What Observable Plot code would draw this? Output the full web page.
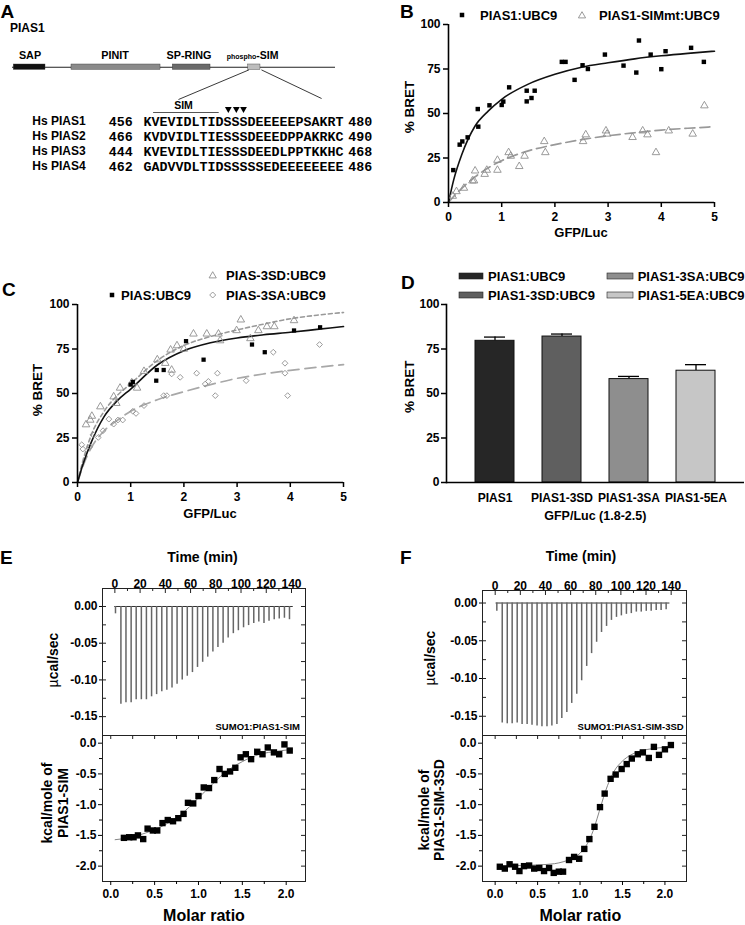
<!DOCTYPE html>
<html><head><meta charset="utf-8">
<script src="https://cdn.jsdelivr.net/npm/d3@7"></script>
<script src="https://cdn.jsdelivr.net/npm/@observablehq/plot@0.6"></script>
<style>
body{margin:0;background:#fff;}
#root{position:relative;width:745px;height:925px;background:#fff;overflow:hidden;}
</style></head><body><div id="root"></div>
<script>
// ================= DATA =================
// Panel A
const proteinLength = 651;
const domainNames = ["SAP", "PINIT", "SP-RING", "phospho-SIM"];
const domainStart = [3.6, 119.7, 323.6, 475.3];
const domainEnd = [67.4, 298.9, 399.5, 500];
const alignNames = ["Hs PIAS1", "Hs PIAS2", "Hs PIAS3", "Hs PIAS4"];
const alignStart = [456, 466, 444, 462];
const alignSeq = ["KVEVIDLTIDSSSDEEEEEPSAKRT", "KVDVIDLTIESSSDEEEDPPAKRKC", "KVEVIDLTIESSSDEEDLPPTKKHC", "GADVVDLTIDSSSSSEDEEEEEEEE"];
const alignEnd = [480, 490, 468, 486];
const simSpan = [457.2, 465.4];
const phosphoSites = [466.6, 467.6, 468.5];

// Panel B
const bPiasX = [0.09,0.21,0.26,0.36,0.55,0.56,0.77,1.0,1.03,1.14,1.47,1.47,1.56,1.62,2.13,2.2,2.37,2.52,2.62,2.94,3.29,3.53,3.58,3.8,4.0,4.08,4.56,4.8];
const bPiasY = [18.2,32.5,34.3,36.6,52.5,42.6,54.6,54.8,56.7,64.7,62.8,56.8,58.7,62.8,79.0,79.0,68.9,77.1,75.0,83.1,76.9,73.0,91.0,83.1,74.9,85.0,86.9,79.0];
const bMutX = [0.08,0.15,0.29,0.45,0.48,0.5,0.68,0.72,0.92,0.92,1.13,1.17,1.33,1.43,1.8,1.82,2.53,2.58,2.96,2.98,3.46,3.65,3.74,3.9,4.14,4.59,4.81];
const bMutY = [3.6,6.2,8.1,12.2,12.2,17.8,15.9,18.2,18.2,23.8,28.1,26.1,20.3,26.1,34.3,28.1,34.3,38.1,40.3,38.5,36.6,40.3,38.1,28.1,40.3,38.5,54.4];
const fitGrid = [0,0.1,0.25,0.5,0.75,1,1.5,2,2.5,3,3.5,4,4.5,5];
const bFitPias = [0,13,27,43,51.5,58,66.5,72,76,78.5,80.7,82.4,83.8,85];
const bFitMut = [0,3.5,8,14.4,19.5,23.5,29,32.5,35.3,37.5,39.2,40.7,41.7,42.6];
const bTicksX = [0,1,2,3,4,5];
const bretTicks = [0,25,50,75,100];

// Panel C
const cPiasX = [1.0,1.04,1.48,1.49,1.62,2.04,2.37,3.28,3.52,4.07,4.56];
const cPiasY = [55,56.5,57.2,63.2,63.2,79.4,69,77.5,73.2,85.4,87.2];
const c3sdX = [0.16,0.24,0.27,0.43,0.68,0.73,0.8,1.02,1.12,1.25,1.5,1.65,1.75,1.77,1.87,2.0,2.18,2.43,2.65,2.68,2.99,3.07,3.25,3.4,3.56,3.7,4.07];
const c3sdY = [32.5,35.1,37.3,42.6,48.2,44.5,53.1,56.1,53.1,62.5,69,67,74.5,63.2,76.9,75,83.5,83.5,83.5,79.7,85.4,91.4,80.9,85.4,87.6,87.6,91];
const c3saX = [0.08,0.1,0.23,0.29,0.39,0.48,0.59,0.68,0.76,0.85,1.04,1.1,1.25,1.62,1.68,1.77,1.93,2.24,2.4,2.46,2.59,2.63,3.17,3.68,3.9,3.9,3.95,4.55];
const c3saY = [21.2,18.8,20,26.8,25.3,29.1,35.6,32.8,35.1,35.1,40,38.8,43.2,48.8,48.8,61,59.1,61.4,55.3,56.8,48.8,61.4,57.2,73.2,67,61.4,48.8,77.5];
const cFitPias = [0,10,22,37,46,52.5,66,74,78.5,81.2,83,84.4,86,87.6];
const cFit3sd = [0,12,26,40,49,55.5,68.5,77,82,85.7,89,92,94,95.5];
const cFit3sa = [0,9,19,29,35,40,46.5,51,55,58.5,61,63,64.7,66.2];

// Panel D
const dCats = ["PIAS1", "PIAS1-3SD", "PIAS1-3SA", "PIAS1-5EA"];
const dValues = [79.6, 82.0, 58.1, 62.8];
const dErrors = [2.1, 1.4, 1.5, 3.4];
const dLegend = ["PIAS1:UBC9", "PIAS1-3SD:UBC9", "PIAS1-3SA:UBC9", "PIAS1-5EA:UBC9"];

// Panel E (SUMO1:PIAS1-SIM)
const eInjTime = [0.5,4.8,8.8,12.9,16.9,21.0,25.0,29.1,33.1,37.2,41.2,45.3,49.3,53.4,57.4,61.5,65.5,69.6,73.6,77.7,81.7,85.8,89.8,93.9,97.9,102.0,106.0,110.1,114.1,118.2,122.2,126.3,130.3,134.4,138.4];
const eInjPeak = [-0.010,-0.133,-0.131,-0.131,-0.127,-0.127,-0.127,-0.123,-0.120,-0.116,-0.114,-0.111,-0.106,-0.100,-0.095,-0.090,-0.083,-0.076,-0.069,-0.062,-0.056,-0.050,-0.043,-0.037,-0.033,-0.029,-0.026,-0.023,-0.021,-0.023,-0.020,-0.018,-0.017,-0.016,-0.018];
const eMolar = [0.15,0.21,0.26,0.31,0.37,0.42,0.48,0.53,0.59,0.65,0.71,0.77,0.83,0.88,0.94,1.0,1.06,1.12,1.18,1.24,1.3,1.36,1.42,1.48,1.54,1.6,1.67,1.73,1.79,1.86,1.92,1.98,2.04];
const eHeat = [-1.54,-1.53,-1.53,-1.5,-1.56,-1.39,-1.42,-1.42,-1.3,-1.25,-1.27,-1.22,-1.15,-0.97,-0.98,-0.86,-0.72,-0.73,-0.6,-0.42,-0.5,-0.46,-0.4,-0.23,-0.18,-0.26,-0.14,-0.18,-0.07,-0.15,-0.18,-0.02,-0.12];
const eFitX = [0.05,0.2,0.4,0.6,0.8,0.9,1.0,1.1,1.2,1.3,1.4,1.5,1.6,1.7,1.8,1.9,2.07];
const eFitY = [-1.57,-1.54,-1.46,-1.34,-1.16,-1.03,-0.89,-0.75,-0.61,-0.48,-0.38,-0.3,-0.23,-0.18,-0.15,-0.13,-0.1];

// Panel F (SUMO1:PIAS1-SIM-3SD)
const fInjTime = [1.3,5.6,9.6,13.5,17.5,21.4,25.4,29.3,33.3,37.2,41.2,45.1,49.1,53.0,57.0,60.9,64.9,68.8,72.8,76.7,80.7,84.6,88.6,92.5,96.5,100.4,104.4,108.3,112.3,116.2,120.2,124.1,128.1,132.0,136.0];
const fInjPeak = [-0.011,-0.159,-0.160,-0.160,-0.159,-0.161,-0.161,-0.162,-0.163,-0.164,-0.164,-0.163,-0.161,-0.153,-0.145,-0.133,-0.121,-0.103,-0.084,-0.067,-0.052,-0.039,-0.031,-0.023,-0.019,-0.017,-0.015,-0.014,-0.012,-0.012,-0.011,-0.011,-0.010,-0.010,-0.009];
const fMolar = [0.055,0.114,0.17,0.235,0.286,0.34,0.4,0.46,0.52,0.576,0.635,0.69,0.75,0.80,0.87,0.93,0.99,1.05,1.11,1.17,1.235,1.29,1.36,1.42,1.49,1.55,1.61,1.68,1.74,1.81,1.87,1.93,2.0,2.07];
const fHeat = [-2.01,-2.04,-1.97,-2.01,-2.08,-2.0,-1.99,-2.04,-2.03,-2.08,-2.03,-2.11,-2.09,-2.09,-1.9,-1.85,-1.88,-1.72,-1.56,-1.36,-1.04,-0.82,-0.58,-0.51,-0.42,-0.34,-0.25,-0.18,-0.15,-0.24,-0.06,-0.19,-0.1,-0.03];
const fFitX = [0.05,0.3,0.5,0.7,0.8,0.9,1.0,1.05,1.1,1.15,1.2,1.25,1.3,1.35,1.4,1.5,1.6,1.7,1.8,1.9,2.07];
const fFitY = [-1.99,-1.99,-1.98,-1.96,-1.93,-1.88,-1.79,-1.71,-1.6,-1.44,-1.23,-1.0,-0.78,-0.6,-0.46,-0.29,-0.19,-0.13,-0.1,-0.08,-0.06];

// ITC tick labels
const timeTicks = [0,20,40,60,80,100,120,140];
const timeMinor = [10,30,50,70,90,110,130];
const rateTicks = [0,-0.05,-0.10,-0.15];
const rateMinor = [-0.025,-0.075,-0.125];
const molarTicks = [0,0.5,1.0,1.5,2.0];
const molarMinor = [0.25,0.75,1.25,1.75];
const heatTicks = [0,-0.5,-1.0,-1.5,-2.0];
const heatMinor = [-0.25,-0.75,-1.25,-1.75];

// ================= STYLE =================
const FONT = "'Liberation Sans', Arial, Helvetica, sans-serif";
const MONO = "'Liberation Mono', 'DejaVu Sans Mono', monospace";
const baseStyle = {fontFamily: FONT, fontSize: "12px", fontWeight: "bold", background: "transparent", overflow: "visible", color: "black"};
const domainFill = ["#111111", "#8a8a8a", "#6a6a6a", "#bdbdbd"];
const barFill = ["#262626", "#5f5f5f", "#8e8e8e", "#c6c6c6"];
const openGray = "#8f8f8f";
const intFmt = d => String(d);

const root = document.getElementById("root");
function place(node, left, top) {
  node.style.position = "absolute";
  node.style.left = left + "px";
  node.style.top = top + "px";
  root.appendChild(node);
}
const zip = (xs, ys) => xs.map((x, i) => ({x, y: ys[i]}));

// ================= PANEL A =================
const domains = domainNames.map((name, i) => ({name, start: domainStart[i], end: domainEnd[i], fill: domainFill[i]}));
const A1 = Plot.plot({
  width: 372, height: 102, marginLeft: 12, marginRight: 37, marginTop: 0, marginBottom: 0,
  x: {domain: [1, proteinLength], axis: null},
  y: {domain: [0, 102], reverse: true, axis: null},
  color: {type: "identity"},
  style: baseStyle,
  marks: [
    Plot.ruleY([66.7], {x1: 1, x2: proteinLength, stroke: "#222", strokeWidth: 1.1}),
    Plot.rect(domains, {x1: "start", x2: "end", y1: 64, y2: 69.4, fill: "fill", stroke: "#333", strokeWidth: 0.4}),
    Plot.link([domains[3]], {x1: d => d.start + 1.5, y1: 69.4, x2: 335, y2: 99, stroke: "#222", strokeWidth: 0.9}),
    Plot.link([domains[3]], {x1: d => d.end + 2, y1: 69.4, x2: 623, y2: 98, stroke: "#222", strokeWidth: 0.9})
  ]
});
place(A1, 0, 0);

const rows = alignNames.map((name, i) => ({name, start: String(alignStart[i]), seq: alignSeq[i], end: String(alignEnd[i])}));
const firstRow = () => alignNames[0];
const A2 = Plot.plot({
  width: 372, height: 80, marginLeft: 143, marginRight: 29, marginTop: 25, marginBottom: 8.5,
  x: {domain: [456, 481], axis: null},
  y: {type: "point", domain: alignNames, padding: 0, axis: null},
  style: baseStyle,
  marks: [
    Plot.text(rows, {x: 442.1, y: "name", text: "name", textAnchor: "start", fontSize: 12, fontWeight: "bold"}),
    Plot.text(rows, {x: 451.66, y: "name", text: "start", textAnchor: "start", fontFamily: MONO, fontSize: 13.33, fontWeight: "bold"}),
    Plot.text(rows, {x: 456, y: "name", text: "seq", textAnchor: "start", fontFamily: MONO, fontSize: 13.33, fontWeight: "bold"}),
    Plot.text(rows, {x: 481.6, y: "name", text: "end", textAnchor: "start", fontFamily: MONO, fontSize: 13.33, fontWeight: "bold"}),
    Plot.link([simSpan], {x1: d => d[0], x2: d => d[1], y1: firstRow, y2: firstRow, dy: -9, stroke: "#555", strokeWidth: 1}),
    Plot.text([simSpan], {x: d => (d[0] + d[1]) / 2 - 0.3, y: firstRow, text: () => "SIM", dy: -15.5, fontSize: 10.5, fontWeight: "bold"}),
    Plot.dot(phosphoSites, {x: d => d, y: firstRow, symbol: "triangle", rotate: 180, r: 2.5, fill: "black", dy: -12.5})
  ]
});
place(A2, 0, 95);

// ================= PANEL B =================
const B = Plot.plot({
  width: 373, height: 245, marginLeft: 76, marginRight: 31, marginTop: 24, marginBottom: 43,
  x: {domain: [0, 5], label: null}, y: {domain: [0, 100], label: null},
  style: baseStyle,
  marks: [
    Plot.line(zip(fitGrid, bFitMut), {x: "x", y: "y", curve: "monotone-x", stroke: "#999", strokeWidth: 1.7, strokeDasharray: "10,5"}),
    Plot.line(zip(fitGrid, bFitPias), {x: "x", y: "y", curve: "monotone-x", stroke: "#111", strokeWidth: 1.6}),
    Plot.dot(zip(bMutX, bMutY), {x: "x", y: "y", symbol: "triangle", r: 2.8, fill: "none", stroke: openGray, strokeWidth: 0.9}),
    Plot.dot(zip(bPiasX, bPiasY), {x: "x", y: "y", symbol: "square", r: 2.5, fill: "black"}),
    Plot.ruleX([0], {strokeWidth: 1.6}),
    Plot.ruleY([0], {strokeWidth: 1.6}),
    Plot.axisX({ticks: bTicksX, tickFormat: intFmt, tickSize: 5, tickPadding: 4.5, strokeWidth: 1.5, label: null}),
    Plot.axisY({ticks: bretTicks, tickFormat: intFmt, tickSize: 5, tickPadding: 3, strokeWidth: 1.5, label: null})
  ]
});
place(B, 372, 0);

// ================= PANEL C =================
const C = Plot.plot({
  width: 372, height: 268, marginLeft: 77, marginRight: 29, marginTop: 42, marginBottom: 48,
  x: {domain: [0, 5], label: null}, y: {domain: [0, 100], label: null},
  style: baseStyle,
  marks: [
    Plot.line(zip(fitGrid, cFit3sa), {x: "x", y: "y", curve: "monotone-x", stroke: "#a8a8a8", strokeWidth: 1.7, strokeDasharray: "11,6"}),
    Plot.line(zip(fitGrid, cFit3sd), {x: "x", y: "y", curve: "monotone-x", stroke: "#999", strokeWidth: 1.6, strokeDasharray: "4,3"}),
    Plot.line(zip(fitGrid, cFitPias), {x: "x", y: "y", curve: "monotone-x", stroke: "#111", strokeWidth: 1.6}),
    Plot.dot(zip(c3saX, c3saY), {x: "x", y: "y", symbol: "diamond2", r: 2.6, fill: "none", stroke: openGray, strokeWidth: 0.9}),
    Plot.dot(zip(c3sdX, c3sdY), {x: "x", y: "y", symbol: "triangle", r: 2.8, fill: "none", stroke: openGray, strokeWidth: 0.9}),
    Plot.dot(zip(cPiasX, cPiasY), {x: "x", y: "y", symbol: "square", r: 2.4, fill: "black"}),
    Plot.ruleX([0], {strokeWidth: 1.6}),
    Plot.ruleY([0], {strokeWidth: 1.6}),
    Plot.axisX({ticks: bTicksX, tickFormat: intFmt, tickSize: 5, tickPadding: 5, strokeWidth: 1.5, label: null}),
    Plot.axisY({ticks: bretTicks, tickFormat: intFmt, tickSize: 5, tickPadding: 3, strokeWidth: 1.5, label: null})
  ]
});
place(C, 0, 262);

// ================= PANEL D =================
const dData = dCats.map((c, i) => ({cat: c, v: dValues[i], e: dErrors[i], fill: barFill[i]}));
const D = Plot.plot({
  width: 373, height: 270, marginLeft: 74, marginRight: 1, marginTop: 44, marginBottom: 48,
  x: {domain: dCats, paddingInner: 0.42, paddingOuter: 0.43, label: null},
  y: {domain: [0, 100], label: null},
  color: {type: "identity"},
  style: baseStyle,
  marks: [
    Plot.ruleX(dData, {x: "cat", y1: "v", y2: d => d.v + d.e, strokeWidth: 1.3}),
    Plot.tickY(dData, {x: "cat", y: d => d.v + d.e, insetLeft: 9, insetRight: 9, strokeWidth: 1.3}),
    Plot.barY(dData, {x: "cat", y: "v", fill: "fill", stroke: "#111", strokeWidth: 1}),
    Plot.ruleY([0], {strokeWidth: 1.6}),
    Plot.frame({anchor: "left", strokeWidth: 1.6}),
    Plot.axisX({tickSize: 0, tickPadding: 10.5, label: null}),
    Plot.axisY({ticks: bretTicks, tickFormat: intFmt, tickSize: 5, tickPadding: 2, strokeWidth: 1.5, label: null})
  ]
});
place(D, 372, 260);

// ================= PANELS E/F =================
function itcUpper(times, peaks, xDomain, yDomain, mL, mR, mT) {
  const W = 372, H = 176;
  const fw = W - mL - mR, fh = H - mT - 1;
  const spikes = times.map((t, i) => ({t, d: peaks[i]}));
  return Plot.plot({
    width: W, height: H, marginLeft: mL, marginRight: mR, marginTop: mT, marginBottom: 1,
    x: {domain: xDomain, label: null}, y: {domain: yDomain, label: null},
    style: baseStyle,
    marks: [
      Plot.ruleY([0], {x1: times[0] - 0.6, x2: times[times.length - 1] + 3, stroke: "#333", strokeWidth: 1}),
      Plot.ruleX(spikes, {x: "t", y1: 0, y2: "d", stroke: "#666", strokeWidth: 1.5}),
      Plot.frame({stroke: "#222", strokeWidth: 1}),
      Plot.ruleX(timeTicks, {insetBottom: fh - 5, stroke: "#222"}),
      Plot.ruleX(timeMinor, {insetBottom: fh - 3, stroke: "#222"}),
      Plot.ruleY(rateTicks.concat(rateMinor), {insetRight: fw - 4, stroke: "#222"}),
      Plot.ruleY(rateTicks.concat(rateMinor), {insetLeft: fw - 4, stroke: "#222"}),
      Plot.axisX({anchor: "top", ticks: timeTicks, tickFormat: intFmt, tickSize: 0, tickPadding: 1, label: null}),
      Plot.axisY({ticks: rateTicks, tickSize: 3, tickPadding: 2, tickFormat: d => d.toFixed(2), label: null})
    ]
  });
}
function itcLower(mx, my, fx, fy, xDomain, mL, mR) {
  const W = 372, H = 191;
  const fw = W - mL - mR, fh = H - 1 - 44;
  return Plot.plot({
    width: W, height: H, marginLeft: mL, marginRight: mR, marginTop: 1, marginBottom: 44,
    x: {domain: xDomain, label: null}, y: {domain: [-2.25, 0.125], label: null},
    style: baseStyle,
    marks: [
      Plot.frame({stroke: "#222", strokeWidth: 1}),
      Plot.ruleX(molarTicks.concat(molarMinor), {insetBottom: fh - 4, stroke: "#222"}),
      Plot.ruleY(heatTicks.concat(heatMinor), {insetLeft: fw - 4, stroke: "#222"}),
      Plot.line(zip(fx, fy), {x: "x", y: "y", curve: "monotone-x", stroke: "#777", strokeWidth: 0.9}),
      Plot.dot(zip(mx, my), {x: "x", y: "y", symbol: "square", r: 3.6, fill: "black"}),
      Plot.axisX({ticks: molarTicks, tickSize: 4, tickPadding: 3.8, tickFormat: d => d.toFixed(1), label: null}),
      Plot.axisX({ticks: molarMinor, tickSize: 3, tickFormat: () => "", label: null}),
      Plot.axisY({ticks: heatTicks, tickSize: 4, tickPadding: 2, tickFormat: d => d.toFixed(1), label: null}),
      Plot.axisY({ticks: heatMinor, tickSize: 3, tickFormat: () => "", label: null})
    ]
  });
}
place(itcUpper(eInjTime, eInjPeak, [-9.8, 151.1], [-0.1757, 0.0245], 102, 67, 28), 0, 560);
place(itcLower(eMolar, eHeat, eFitX, eFitY, [-0.094, 2.22], 102, 67), 0, 734);
place(itcUpper(fInjTime, fInjPeak, [-10.1, 152.2], [-0.1755, 0.0166], 110, 58, 30), 372, 560);
place(itcLower(fMolar, fHeat, fFitX, fFitY, [-0.149, 2.254], 110, 58), 372, 734);

// ================= OVERLAY TEXT / LEGENDS =================
function T(x, y, s, o = {}) {
  const size = o.size || 13, anchor = o.anchor || "start", weight = o.weight || "bold";
  const fam = o.family || FONT;
  if (o.rotate) {
    return `<text transform="translate(${x},${y}) rotate(-90)" text-anchor="middle" dy="0.36em" font-size="${size}" font-weight="${weight}" font-family="${fam}">${s}</text>`;
  }
  return `<text x="${x}" y="${y}" text-anchor="${anchor}" font-size="${size}" font-weight="${weight}" font-family="${fam}">${s}</text>`;
}
const tri = (cx, cy) => `<path d="M${cx},${cy - 3.3} L${cx + 3.6},${cy + 2.9} L${cx - 3.6},${cy + 2.9} Z" fill="none" stroke="${openGray}" stroke-width="0.9"/>`;
const dia = (cx, cy) => `<path d="M${cx},${cy - 3} L${cx + 3},${cy} L${cx},${cy + 3} L${cx - 3},${cy} Z" fill="none" stroke="${openGray}" stroke-width="0.9"/>`;
const sq = (cx, cy, s) => `<rect x="${cx - s / 2}" y="${cy - s / 2}" width="${s}" height="${s}" fill="black"/>`;
const sw = (x, cy, w, fill) => `<rect x="${x}" y="${cy - 3}" width="${w}" height="6" fill="${fill}" stroke="#222" stroke-width="0.6"/>`;

let ov = "";
// Panel A
ov += T(0.5, 17.5, "A", {size: 19});
ov += T(10, 31.7, "PIAS1", {size: 12});
ov += T(30, 59, "SAP", {size: 10.8, anchor: "middle"});
ov += T(115, 59, "PINIT", {size: 10.8, anchor: "middle"});
ov += T(189, 59, "SP-RING", {size: 10.8, anchor: "middle"});
ov += `<text x="226.7" y="59" font-family="${FONT}" font-weight="bold" fill="black"><tspan font-size="7">phospho</tspan><tspan font-size="10.5">-SIM</tspan></text>`;
// Panel B
ov += T(400, 17.5, "B", {size: 19});
ov += sq(462, 15, 4.5) + T(480, 19.7, dLegend[0], {size: 13});
ov += tri(582, 15) + T(599, 19.7, "PIAS1-SIMmt:UBC9", {size: 13});
ov += T(409, 107, "% BRET", {size: 13.5, rotate: true});
ov += T(581, 236.7, "GFP/Luc", {size: 13, anchor: "middle"});
// Panel C
ov += T(2, 296, "C", {size: 19});
ov += tri(212.7, 275) + T(226, 279.7, "PIAS-3SD:UBC9", {size: 13});
ov += sq(112, 295, 4.5) + T(121, 299.7, "PIAS:UBC9", {size: 13});
ov += dia(212.7, 295) + T(226, 299.7, "PIAS-3SA:UBC9", {size: 13});
ov += T(36.7, 390, "% BRET", {size: 13.5, rotate: true});
ov += T(210, 517.7, "GFP/Luc", {size: 13, anchor: "middle"});
// Panel D
ov += T(401, 289, "D", {size: 19});
ov += sw(459, 276, 24, barFill[0]) + T(488, 280.7, dLegend[0], {size: 13});
ov += sw(459, 295, 24, barFill[1]) + T(488, 299.7, dLegend[1], {size: 13});
ov += sw(607, 276, 26, barFill[2]) + T(637.7, 280.7, dLegend[2], {size: 13});
ov += sw(607, 295, 26, barFill[3]) + T(637.7, 299.7, dLegend[3], {size: 13});
ov += T(408.7, 386.7, "% BRET", {size: 13.5, rotate: true});
ov += T(595.3, 519.5, "GFP/Luc (1.8-2.5)", {size: 12.5, anchor: "middle"});
// Panel E
ov += T(0, 563.5, "E", {size: 19});
ov += T(202.5, 562, "Time (min)", {size: 14, anchor: "middle"});
ov += `<text transform="translate(53.3,660) rotate(-90)" text-anchor="middle" dy="0.36em" font-size="14" font-weight="bold" font-family="${FONT}"><tspan font-weight="normal">µ</tspan>cal/sec</text>`;
ov += T(46.7, 803, "kcal/mole of", {size: 14, rotate: true});
ov += T(63.3, 803, "PIAS1-SIM", {size: 14, rotate: true});
ov += T(204, 920.8, "Molar ratio", {size: 16, anchor: "middle"});
ov += T(300, 730, "SUMO1:PIAS1-SIM", {size: 9.5, anchor: "end"});
// Panel F
ov += T(400, 563.5, "F", {size: 19});
ov += T(581, 561, "Time (min)", {size: 14, anchor: "middle"});
ov += `<text transform="translate(430.3,658) rotate(-90)" text-anchor="middle" dy="0.36em" font-size="14" font-weight="bold" font-family="${FONT}"><tspan font-weight="normal">µ</tspan>cal/sec</text>`;
ov += T(423.7, 810, "kcal/mole of", {size: 14, rotate: true});
ov += T(438.7, 810, "PIAS1-SIM-3SD", {size: 14, rotate: true});
ov += T(580.3, 920.8, "Molar ratio", {size: 16, anchor: "middle"});
ov += T(683.7, 729.5, "SUMO1:PIAS1-SIM-3SD", {size: 9.5, anchor: "end"});

const overlay = document.createElementNS("http://www.w3.org/2000/svg", "svg");
overlay.setAttribute("width", 745);
overlay.setAttribute("height", 925);
overlay.style.pointerEvents = "none";
overlay.innerHTML = ov;
place(overlay, 0, 0);
</script>
</body></html>
